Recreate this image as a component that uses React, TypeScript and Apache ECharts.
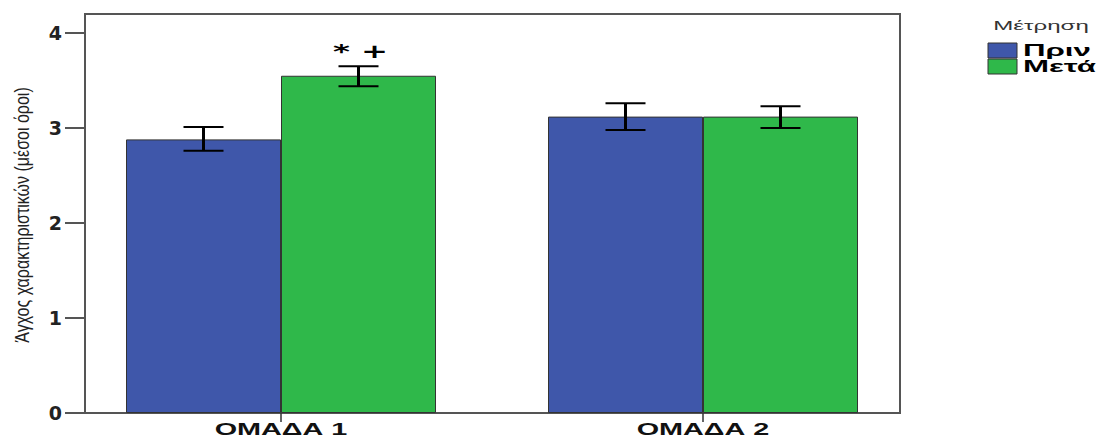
import React, { useEffect, useRef } from "react";
import * as echarts from "echarts";

const categories = ["ΟΜΑΔΑ 1", "ΟΜΑΔΑ 2"];
const seriesNames = ["Πριν", "Μετά"];
const beforeMeans = [2.88, 3.12];
const afterMeans = [3.55, 3.12];
const beforeLow = [2.76, 2.98];
const beforeHigh = [3.01, 3.26];
const afterLow = [3.44, 3.0];
const afterHigh = [3.65, 3.23];
const annotations = ["* +", ""];
const yTicks = [0, 1, 2, 3, 4];
const yTitle = "Άγχος χαρακτηριστικών (μέσοι όροι)";
const legendTitle = "Μέτρηση";

const BLUE = "#3F57AA";
const GREEN = "#2FB84A";
const BAR_W = 155;
const FONT = '"Liberation Sans", Arial, sans-serif';

function errSeries(lows: number[], highs: number[], sign: number, notes: string[] | null) {
  return {
    type: "custom",
    xAxisIndex: 1,
    yAxisIndex: 1,
    z: 10,
    data: categories.map((_, i) => [i, lows[i], highs[i]]),
    renderItem: (params: any, api: any) => {
      const lo = api.coord([api.value(0), api.value(1)]);
      const hi = api.coord([api.value(0), api.value(2)]);
      const x = lo[0] + (sign * BAR_W) / 2;
      const cap = 20;
      const children: any[] = [
        { type: "line", shape: { x1: x, y1: hi[1], x2: x, y2: lo[1] }, style: { stroke: "#000", lineWidth: 3 } },
        { type: "line", shape: { x1: x - cap, y1: hi[1], x2: x + cap, y2: hi[1] }, style: { stroke: "#000", lineWidth: 2 } },
        { type: "line", shape: { x1: x - cap, y1: lo[1], x2: x + cap, y2: lo[1] }, style: { stroke: "#000", lineWidth: 2 } },
      ];
      const note = notes ? notes[params.dataIndex] : "";
      if (note) {
        children.push({
          type: "text",
          x: x + 2,
          y: hi[1] - 15,
          scaleX: 1.7,
          style: {
            text: note,
            font: `bold 19px "DejaVu Sans", sans-serif`,
            textAlign: "center",
            textVerticalAlign: "middle",
            align: "center",
            verticalAlign: "middle",
            fill: "#000",
          },
        });
      }
      return { type: "group", children };
    },
  };
}

export default function App() {
  const ref = useRef<HTMLDivElement>(null);
  useEffect(() => {
    document.body.style.margin = "0";
    if (!ref.current) return;
    const chart = echarts.init(ref.current, undefined, { renderer: "svg" });
    const option: any = {
      animation: false,
      backgroundColor: "#fff",
      grid: [
        { left: 85, top: 14, width: 815, height: 399, show: true, borderColor: "#555", borderWidth: 2, backgroundColor: "transparent" },
        { left: 70, top: 14, width: 844, height: 399 },
      ],
      xAxis: [
        { type: "category", gridIndex: 0, data: categories, show: false },
        {
          type: "category",
          gridIndex: 1,
          data: categories,
          axisLine: { show: false },
          axisTick: { show: true, alignWithLabel: true, length: 9, lineStyle: { color: "#333", width: 1.5 } },
          axisLabel: { show: false },
          splitLine: { show: false },
        },
      ],
      yAxis: [
        {
          type: "value",
          gridIndex: 0,
          min: 0,
          max: 4.2,
          interval: 1,
          axisLine: { show: true, lineStyle: { color: "#555", width: 2 } },
          axisTick: { show: true, length: 20, customValues: yTicks, lineStyle: { color: "#555", width: 2 } },
          axisLabel: {
            customValues: yTicks,
            margin: 23,
            fontFamily: '"DejaVu Sans", sans-serif',
            fontWeight: "bold",
            fontSize: 19,
            color: "#222",
          },
          splitLine: { show: false },
        },
        { type: "value", gridIndex: 1, min: 0, max: 4.2, show: false, splitLine: { show: false } },
      ],
      series: [
        {
          name: seriesNames[0],
          type: "bar",
          xAxisIndex: 1,
          yAxisIndex: 1,
          data: beforeMeans,
          barWidth: BAR_W,
          barGap: "0%",
          itemStyle: { color: BLUE, borderColor: "#333", borderWidth: 1 },
        },
        {
          name: seriesNames[1],
          type: "bar",
          xAxisIndex: 1,
          yAxisIndex: 1,
          data: afterMeans,
          barWidth: BAR_W,
          barGap: "0%",
          itemStyle: { color: GREEN, borderColor: "#333", borderWidth: 1 },
        },
        errSeries(beforeLow, beforeHigh, -1, null),
        errSeries(afterLow, afterHigh, 1, annotations),
      ],
    };
    chart.setOption(option);

    const txt = (text: string, x: number, y: number, font: string, align: string, scaleX: number, fill = "#000") => ({
      type: "text",
      x,
      y,
      scaleX,
      style: { text, font, textAlign: align, align, textVerticalAlign: "middle", verticalAlign: "middle", fill },
    });

    const graphics: any[] = [];
    categories.forEach((c) => {
      const px = chart.convertToPixel({ xAxisIndex: 1 }, c) as number;
      graphics.push(txt(c, px, 430, `bold 16px ${FONT}`, "center", 1.8, "#111"));
    });
    graphics.push({
      type: "text",
      x: 22,
      y: 215,
      rotation: Math.PI / 2,
      scaleY: 1.3,
      style: {
        text: yTitle,
        font: `16px ${FONT}`,
        textAlign: "center",
        align: "center",
        textVerticalAlign: "middle",
        verticalAlign: "middle",
        fill: "#222",
      },
    });
    graphics.push(txt(legendTitle, 1041, 26, `13px ${FONT}`, "center", 1.85, "#333"));
    const swatchColors = [BLUE, GREEN];
    seriesNames.forEach((n, i) => {
      graphics.push({
        type: "rect",
        shape: { x: 988, y: 43 + i * 16, width: 29, height: 15 },
        style: { fill: swatchColors[i], stroke: "#333", lineWidth: 1 },
      });
      graphics.push(txt(n, 1023, 51 + i * 16, `bold 16px ${FONT}`, "left", 1.95, "#000"));
    });
    chart.setOption({ graphic: graphics });

    return () => chart.dispose();
  }, []);
  return <div ref={ref} style={{ width: 1098, height: 440 }} />;
}
